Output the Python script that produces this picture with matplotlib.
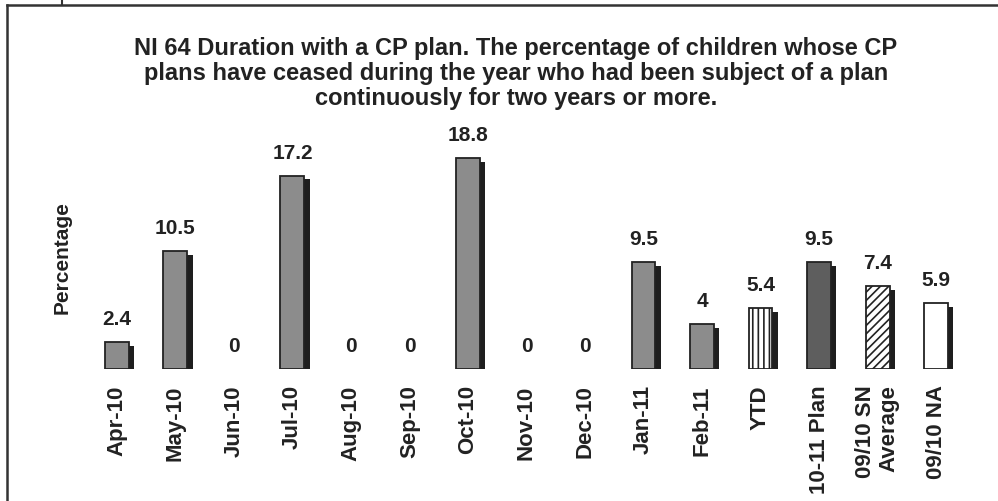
import numpy as np
import matplotlib.pyplot as plt
from matplotlib.lines import Line2D

plt.rcParams['font.family'] = ['Liberation Sans', 'DejaVu Sans']
plt.rcParams['hatch.linewidth'] = 1.2

# данные
labels = ['Apr-10', 'May-10', 'Jun-10', 'Jul-10', 'Aug-10', 'Sep-10', 'Oct-10',
          'Nov-10', 'Dec-10', 'Jan-11', 'Feb-11', 'YTD', '10-11 Plan',
          '09/10 SN\nAverage', '09/10 NA']
values = [2.4, 10.5, 0, 17.2, 0, 0, 18.8, 0, 0, 9.5, 4, 5.4, 9.5, 7.4, 5.9]
value_text = ['2.4', '10.5', '0', '17.2', '0', '0', '18.8', '0', '0',
              '9.5', '4', '5.4', '9.5', '7.4', '5.9']

faces = ['#8c8c8c'] * 11 + ['white', '#5e5e5e', 'white', 'white']
hatches = [None] * 11 + ['|||', None, '////', None]

title = ('NI 64 Duration with a CP plan. The percentage of children whose CP\n'
         'plans have ceased during the year who had been subject of a plan\n'
         'continuously for two years or more.')

fig = plt.figure(figsize=(9.98, 5.02), dpi=100)
ax = fig.add_axes([0.0879, 0.263, 0.8793, 0.448])

x = np.arange(len(values))
w = 0.41

# тень справа
ax.bar(x + 0.09, np.maximum(np.array(values) - 0.35, 0), width=w,
       color='#1e1e1e', zorder=1)
for i, v in enumerate(values):
    if v > 0:
        ax.bar(x[i], v, width=w, color=faces[i], edgecolor='#222222',
               linewidth=1.3, hatch=hatches[i], zorder=2)
    ax.annotate(value_text[i], (x[i], v), xytext=(0, 10),
                textcoords='offset points', ha='center', va='bottom',
                fontsize=15, fontweight='bold', color='#222222')

ax.set_xlim(-0.5, len(values) - 0.5)
ax.set_ylim(0, 20)
ax.set_xticks(x)
ax.set_xticklabels(labels, rotation=90, fontsize=16, fontweight='bold',
                   color='#222222', linespacing=1.15)
for t in ax.get_xticklabels():
    t.set_multialignment('right')
ax.tick_params(axis='x', length=0, pad=11)
ax.set_yticks([])
for s in ax.spines.values():
    s.set_visible(False)

ax.set_ylabel('Percentage', fontsize=15, fontweight='bold', color='#222222',
              va='center')
ax.yaxis.set_label_coords(-0.029, 0.5)

fig.text(0.517, 1 - 37 / 502, title, ha='center', va='top', fontsize=17,
         fontweight='bold', color='#222222', linespacing=1.12)

# рамка
fig.add_artist(Line2D([7 / 998, 7 / 998], [0, 1 - 6 / 502], color='#333333',
                      lw=1.8, transform=fig.transFigure))
fig.add_artist(Line2D([7 / 998, 1], [1 - 6 / 502, 1 - 6 / 502],
                      color='#333333', lw=1.8, transform=fig.transFigure))
fig.add_artist(Line2D([62 / 998, 62 / 998], [1 - 6 / 502, 1], color='#333333',
                      lw=1.5, transform=fig.transFigure))

fig.savefig('out.png', dpi=100)
